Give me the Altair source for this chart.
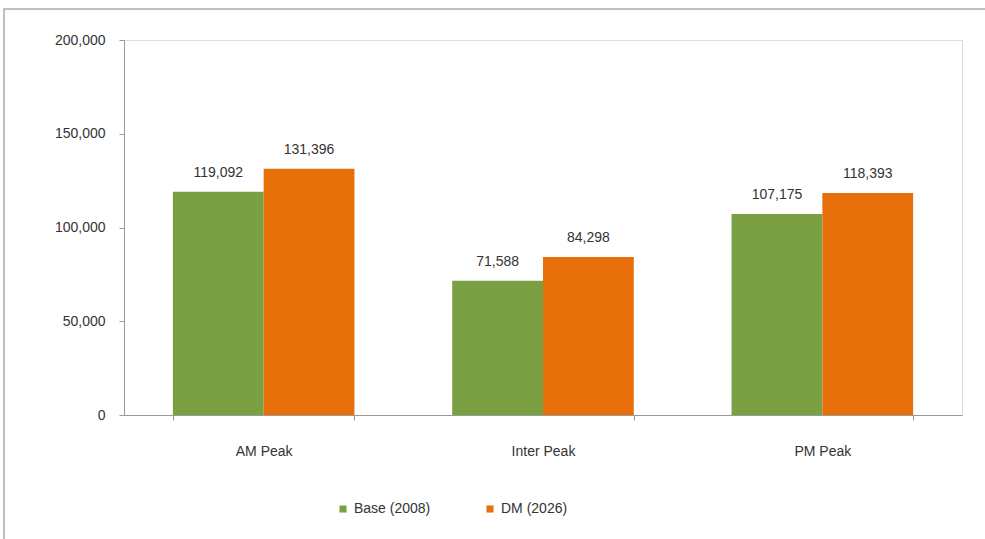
import altair as alt
import pandas as pd

# Traffic volumes by time period
periods = ["AM Peak", "Inter Peak", "PM Peak"]
series = ["Base (2008)", "DM (2026)"]
base_2008 = [119092, 71588, 107175]
dm_2026 = [131396, 84298, 118393]
y_ticks = [0, 50000, 100000, 150000, 200000]
colors = ["#7BA043", "#E8700A"]

rows = []
for p, b, d in zip(periods, base_2008, dm_2026):
    rows.append({"period": p, "scenario": series[0], "value": b})
    rows.append({"period": p, "scenario": series[1], "value": d})
df = pd.DataFrame(rows)

FONT = "Liberation Sans"
TXT = "#333333"

x_enc = alt.X(
    "period:N",
    sort=periods,
    title=None,
    scale=alt.Scale(paddingInner=0.35, paddingOuter=0.175),
    axis=alt.Axis(
        labelAngle=0, labelPadding=24, labelFontSize=14, labelColor=TXT,
        labelFont=FONT, domainColor="#999999", tickColor="#999999",
        tickBand="extent", tickSize=5, grid=False,
    ),
)
y_enc = alt.Y(
    "value:Q",
    title=None,
    scale=alt.Scale(domain=[0, 200000]),
    axis=alt.Axis(
        values=y_ticks, format=",.0f", labelFontSize=14, labelColor=TXT,
        labelFont=FONT, labelPadding=14, domainColor="#999999",
        tickColor="#999999", tickSize=5, grid=False,
    ),
)

bars = alt.Chart(df).mark_bar().encode(
    x=x_enc,
    xOffset=alt.XOffset("scenario:N", sort=series),
    y=y_enc,
    color=alt.Color(
        "scenario:N",
        sort=series,
        scale=alt.Scale(domain=series, range=colors),
        legend=alt.Legend(
            title=None, orient="none", legendX=212, legendY=462,
            direction="horizontal", symbolType="square", symbolSize=50,
            labelFontSize=14, labelColor=TXT, labelFont=FONT,
            columnPadding=52, symbolStrokeWidth=0,
        ),
    ),
)

labels = alt.Chart(df).mark_text(
    dy=-12, fontSize=14, color=TXT, font=FONT, baseline="bottom"
).encode(
    x=alt.X("period:N", sort=periods),
    xOffset=alt.XOffset("scenario:N", sort=series),
    y="value:Q",
    text=alt.Text("value:Q", format=",.0f"),
)

# Outer frame around the chart
frame = alt.Chart(pd.DataFrame({"k": [0]})).mark_rect(
    fill=None, stroke="#AAAAAA", strokeWidth=1.5
).encode(
    x=alt.value(-120), x2=alt.value(868), y=alt.value(-31), y2=alt.value(506)
)

chart = alt.layer(frame, bars, labels).properties(
    width=838,
    height=375,
    autosize=alt.AutoSizeParams(type="none"),
    padding={"left": 124, "top": 40, "right": 23, "bottom": 124},
).configure_view(stroke=None).configure(background="white")

chart.save("out.html", embed_options={"renderer": "svg", "actions": False})
